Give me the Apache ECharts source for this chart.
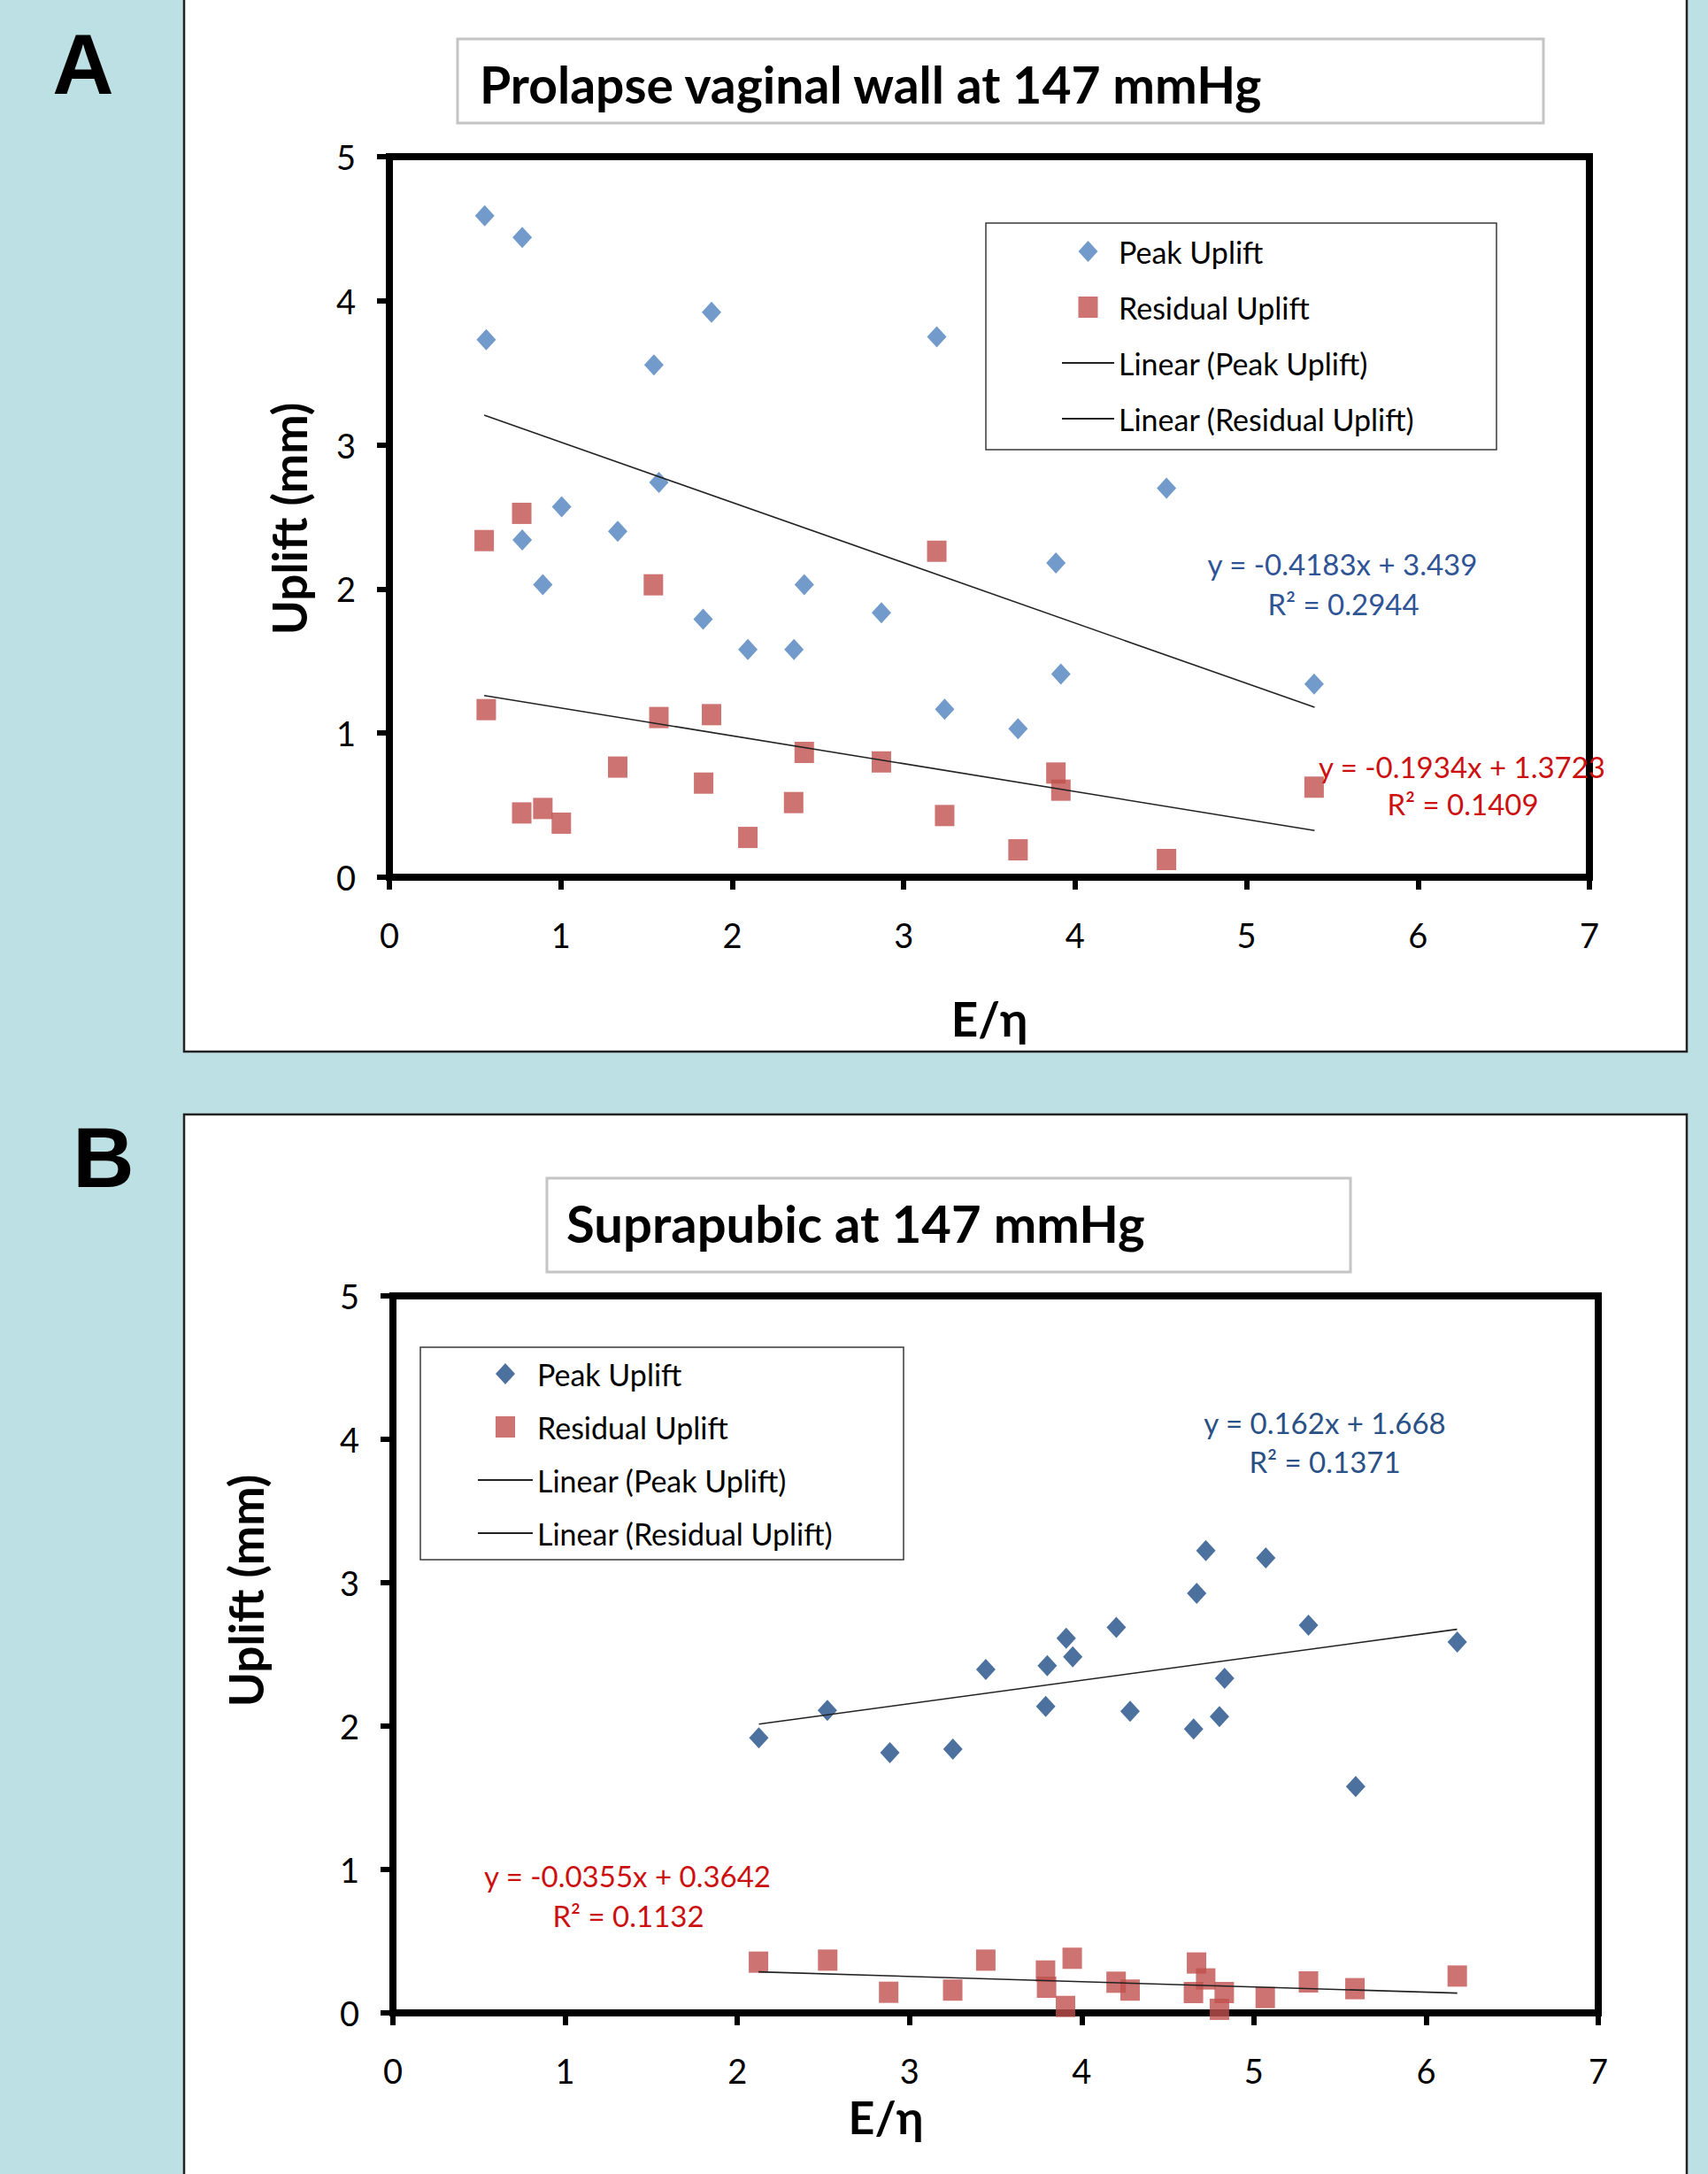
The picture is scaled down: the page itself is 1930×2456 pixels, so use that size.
<!DOCTYPE html>
<html>
<head>
<meta charset="utf-8">
<title>Uplift vs E/η</title>
<script src="https://cdn.jsdelivr.net/npm/echarts@6/dist/echarts.min.js"></script>
<style>
  html, body { margin: 0; padding: 0; background: #bce0e3; }
  #chart { width: 1930px; height: 2456px; }
</style>
</head>
<body>
<div id="chart"></div>
<script>
// ---- data ----
// panel A: prolapse vaginal wall
const peakA = [
  [0.556, 4.59], [0.775, 4.44], [0.565, 3.73], [1.879, 3.92], [3.193, 3.75],
  [1.543, 3.555], [1.572, 2.74], [1.005, 2.57], [1.332, 2.40], [0.775, 2.34],
  [0.895, 2.03], [2.42, 2.03], [1.83, 1.79], [2.87, 1.835], [2.091, 1.58],
  [2.36, 1.58], [3.239, 1.165], [3.888, 2.18], [3.917, 1.41], [3.667, 1.03],
  [5.394, 1.34], [4.533, 2.70]
];
const residualA = [
  [0.772, 2.525], [0.553, 2.336], [1.54, 2.029], [3.193, 2.262], [0.565, 1.163],
  [1.572, 1.108], [1.879, 1.128], [1.332, 0.764], [1.833, 0.653], [2.42, 0.866],
  [2.87, 0.80], [0.772, 0.446], [0.895, 0.477], [1.003, 0.375], [2.091, 0.276],
  [2.358, 0.518], [3.239, 0.428], [3.888, 0.723], [3.917, 0.604], [3.667, 0.19],
  [4.533, 0.123], [5.394, 0.625]
];
const trendPeakA = [[0.553, 3.206], [5.397, 1.179]];
const trendResidualA = [[0.553, 1.261], [5.397, 0.324]];
const eqPeakA = ['y = -0.4183x + 3.439', 'R² = 0.2944'];
const eqResidualA = ['y = -0.1934x + 1.3723', 'R² = 0.1409'];

// panel B: suprapubic
const peakB = [
  [4.721, 3.224], [5.069, 3.173], [4.668, 2.926], [5.317, 2.704], [4.201, 2.689],
  [3.91, 2.613], [3.948, 2.483], [3.80, 2.422], [3.443, 2.395], [6.181, 2.586],
  [4.83, 2.333], [2.523, 2.109], [3.791, 2.138], [4.281, 2.103], [4.80, 2.066],
  [4.65, 1.98], [2.125, 1.918], [2.886, 1.815], [3.252, 1.84], [5.591, 1.578]
];
const residualB = [
  [2.123, 0.354], [2.525, 0.368], [2.879, 0.144], [3.251, 0.159], [3.443, 0.368],
  [3.79, 0.292], [3.796, 0.179], [3.906, 0.045], [3.945, 0.381], [4.2, 0.214],
  [4.281, 0.159], [4.667, 0.348], [4.72, 0.237], [4.649, 0.142], [4.828, 0.142],
  [4.80, 0.025], [5.066, 0.107], [5.317, 0.216], [5.587, 0.169], [6.181, 0.257]
];
const trendPeakB = [[2.125, 2.014], [6.18, 2.675]];
const trendResidualB = [[2.123, 0.286], [6.181, 0.138]];
const eqPeakB = ['y = 0.162x + 1.668', 'R² = 0.1371'];
const eqResidualB = ['y = -0.0355x + 0.3642', 'R² = 0.1132'];

const legendNames = ['Peak Uplift', 'Residual Uplift', 'Linear (Peak Uplift)', 'Linear (Residual Uplift)'];
const titles = ['Prolapse vaginal wall at 147 mmHg', 'Suprapubic at 147 mmHg'];
const xName = 'E/η';
const yName = 'Uplift (mm)';

// ---- styling ----
const FONT = 'Lato, "Open Sans", sans-serif';
const RED = '#c0504d';
const BLUE_A = '#4f81bd';
const BLUE_B = '#1f4e87';
// legend icons as paths so they keep their shape inside the wide icon box
const DIAMOND_ICON = 'path://M11,0 L22,12 L11,24 L0,12 Z';
const SQUARE_ICON = 'path://M0,0 L22,0 L22,24 L0,24 Z';

var chart = echarts.init(document.getElementById('chart'), null, { renderer: 'svg' });

function xAxisFor(gridIndex) {
  return {
    type: 'value', gridIndex: gridIndex, min: 0, max: 7, interval: 1,
    splitLine: { show: false },
    axisLine: { lineStyle: { color: '#000', width: 8 } },
    axisTick: { length: 14, lineStyle: { color: '#000', width: 6 } },
    axisLabel: { margin: 46, fontSize: 38, color: '#000', fontFamily: FONT }
  };
}
function yAxisFor(gridIndex) {
  return {
    type: 'value', gridIndex: gridIndex, min: 0, max: 5, interval: 1,
    splitLine: { show: false },
    axisLine: { show: true, lineStyle: { color: '#000', width: 8 } },
    axisTick: { show: true, length: 14, lineStyle: { color: '#000', width: 6 } },
    axisLabel: { margin: 38, fontSize: 38, color: '#000', fontFamily: FONT }
  };
}

function panelSeries(p, idx, peak, residual, trendPeak, trendResidual, peakColor) {
  return [
    { name: p + legendNames[0], type: 'scatter', xAxisIndex: idx, yAxisIndex: idx,
      symbol: 'diamond', symbolSize: [22, 24], itemStyle: { color: peakColor }, data: peak },
    { name: p + legendNames[1], type: 'scatter', xAxisIndex: idx, yAxisIndex: idx,
      symbol: 'rect', symbolSize: [22, 24], itemStyle: { color: RED }, data: residual },
    { name: p + legendNames[2], type: 'line', xAxisIndex: idx, yAxisIndex: idx,
      symbol: 'none', lineStyle: { color: '#222', width: 1.6 }, data: trendPeak },
    { name: p + legendNames[3], type: 'line', xAxisIndex: idx, yAxisIndex: idx,
      symbol: 'none', lineStyle: { color: '#222', width: 1.6 }, data: trendResidual }
  ];
}

function legendFor(p, left, top, itemWidth, itemGap) {
  var hidden = { color: 'rgba(0,0,0,0)', borderColor: 'rgba(0,0,0,0)', borderWidth: 0 };
  return {
    data: [
      { name: p + legendNames[0], icon: DIAMOND_ICON },
      { name: p + legendNames[1], icon: SQUARE_ICON },
      { name: p + legendNames[2], itemStyle: hidden },
      { name: p + legendNames[3], itemStyle: hidden }
    ],
    formatter: function (n) { return n.slice(2); },
    orient: 'vertical', left: left, top: top, padding: 0,
    itemWidth: itemWidth, itemHeight: 24, itemGap: itemGap,
    symbolKeepAspect: true,
    selectedMode: false,
    textStyle: { fontFamily: FONT, fontSize: 34, color: '#000', lineHeight: 36 }
  };
}

function txt(x, y, text, size, color, opts) {
  opts = opts || {};
  return {
    type: 'text', x: x, y: y, rotation: opts.rotation || 0, z: 10,
    style: {
      text: text, x: 0, y: 0, fill: color,
      font: (opts.weight || 'normal') + ' ' + size + 'px ' + (opts.family || FONT),
      textAlign: opts.align || 'center', verticalAlign: 'middle'
    }
  };
}

var graphics = [
  // white panels
  { type: 'rect', z: -10, shape: { x: 208, y: -5, width: 1698, height: 1193 },
    style: { fill: '#fff', stroke: '#222', lineWidth: 2.5 } },
  { type: 'rect', z: -10, shape: { x: 208, y: 1259, width: 1698, height: 1220 },
    style: { fill: '#fff', stroke: '#222', lineWidth: 2.5 } },
  // title boxes
  { type: 'rect', z: -5, shape: { x: 517, y: 44, width: 1227, height: 95 },
    style: { fill: '#fff', stroke: '#c4c4c4', lineWidth: 3 } },
  { type: 'rect', z: -5, shape: { x: 618, y: 1331, width: 908, height: 106 },
    style: { fill: '#fff', stroke: '#c4c4c4', lineWidth: 3 } },
  // legend boxes
  { type: 'rect', z: 1, shape: { x: 1114, y: 252, width: 577, height: 256 },
    style: { fill: '#fff', stroke: '#3a3a3a', lineWidth: 1.5 } },
  { type: 'rect', z: 1, shape: { x: 475, y: 1522, width: 546, height: 240 },
    style: { fill: '#fff', stroke: '#3a3a3a', lineWidth: 1.5 } },
  // panel letters
  txt(94, 72, 'A', 96, '#000', { weight: 'bold', family: '"Liberation Sans", Arial, sans-serif' }),
  txt(117, 1307, 'B', 96, '#000', { weight: 'bold', family: '"Liberation Sans", Arial, sans-serif' }),
  // titles
  txt(542, 95, titles[0], 57, '#000', { weight: 'bold', align: 'left' }),
  txt(640, 1381, titles[1], 58, '#000', { weight: 'bold', align: 'left' }),
  // axis names
  txt(1118, 1150, xName, 53, '#000', { weight: 'bold' }),
  txt(326, 586, yName, 53, '#000', { weight: 'bold', rotation: Math.PI / 2 }),
  txt(1001, 2391, xName, 52, '#000', { weight: 'bold' }),
  txt(277, 1797, yName, 53, '#000', { weight: 'bold', rotation: Math.PI / 2 }),
  // trend equations
  txt(1517, 637, eqPeakA[0], 33, '#2f5496'),
  txt(1518, 682, eqPeakA[1], 33, '#2f5496'),
  txt(1652, 866, eqResidualA[0], 33, '#cc1010'),
  txt(1653, 908, eqResidualA[1], 33, '#cc1010'),
  txt(1497, 1607, eqPeakB[0], 33, '#2a5186'),
  txt(1497, 1651, eqPeakB[1], 33, '#2a5186'),
  txt(709, 2119, eqResidualB[0], 33, '#cc1010'),
  txt(710, 2164, eqResidualB[1], 33, '#cc1010')
];

var option = {
  animation: false,
  backgroundColor: '#bce0e3',
  grid: [
    { left: 440, top: 177, width: 1356, height: 814, show: true,
      borderColor: '#000', borderWidth: 8, backgroundColor: 'transparent' },
    { left: 444, top: 1464, width: 1362, height: 810, show: true,
      borderColor: '#000', borderWidth: 8, backgroundColor: 'transparent' }
  ],
  xAxis: [xAxisFor(0), xAxisFor(1)],
  yAxis: [yAxisFor(0), yAxisFor(1)],
  legend: [
    legendFor('A:', 1199, 266, 59, 27),
    legendFor('B:', 539, 1534, 62, 24)
  ],
  graphic: graphics,
  series: [].concat(
    panelSeries('A:', 0, peakA, residualA, trendPeakA, trendResidualA, BLUE_A),
    panelSeries('B:', 1, peakB, residualB, trendPeakB, trendResidualB, BLUE_B)
  )
};

chart.setOption(option);
</script>
</body>
</html>
